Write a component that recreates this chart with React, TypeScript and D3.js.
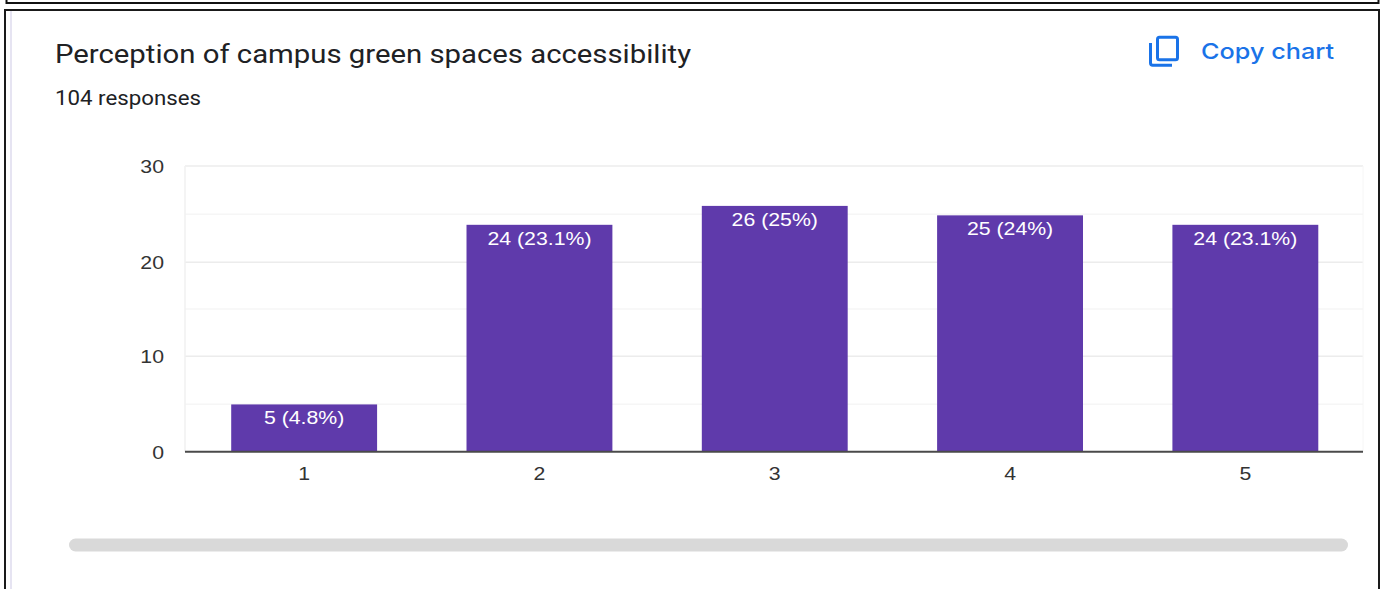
import React from "react";
import * as d3 from "d3";

const categories = ["1", "2", "3", "4", "5"];
const counts = [5, 24, 26, 25, 24];
const barLabels = ["5 (4.8%)", "24 (23.1%)", "26 (25%)", "25 (24%)", "24 (23.1%)"];
const majorTicks = [0, 10, 20, 30];
const minorTicks = [5, 15, 25];

const W = 1386;
const H = 589;
const plot = { left: 185, right: 1363, top: 166, bottom: 451.7 };

const FONT_UI = "Roboto, sans-serif";
const FONT_ACTION = "Inter, Roboto, sans-serif";
const FONT_CHART = "'Liberation Sans', Arial, sans-serif";
const WIDEN = 1.12;

// Chart text is set slightly wide, so it is stretched about its own anchor point.
function WideText({ x, y, anchor, size, fill, children }: any) {
  return (
    <text
      transform={`translate(${x},${y}) scale(${WIDEN},1)`}
      textAnchor={anchor}
      fontFamily={FONT_CHART}
      fontSize={size}
      fill={fill}
    >
      {children}
    </text>
  );
}

export default function App() {
  const x = d3
    .scaleBand<string>()
    .domain(categories)
    .range([186.5, 1363])
    .paddingInner(0.38)
    .paddingOuter(0.19);
  // Gridlines sit on the axis scale; the bars use their own slightly tighter scale.
  const gridY = d3
    .scaleLinear()
    .domain([0, 5, 10, 15, 20, 25, 30])
    .range([plot.bottom, 404.3, 356.2, 309, 262.3, 214.3, plot.top]);
  const barY = d3.scaleLinear().domain([0, 26]).range([plot.bottom, 205.9]);

  return (
    <svg
      width={W}
      height={H}
      viewBox={`0 0 ${W} ${H}`}
      style={{ position: "absolute", left: 0, top: 0, display: "block" }}
    >
      <rect width={W} height={H} fill="#ffffff" />

      {/* Frames around the neighbouring card and this card */}
      <path d="M6.5 -4 V3 H1378.5 V-4" fill="none" stroke="#111111" strokeWidth={2} />
      <path d="M5 600 V10 H1379 V600" fill="none" stroke="#1a1a1a" strokeWidth={2} />
      <line x1={11} x2={11} y1={11} y2={589} stroke="#e6e4f2" strokeWidth={2} />

      <text
        x={55}
        y={63}
        fontFamily={FONT_UI}
        fontSize={25.5}
        textLength={636}
        lengthAdjust="spacingAndGlyphs"
        fill="#202124"
      >
        Perception of campus green spaces accessibility
      </text>
      <text
        x={55}
        y={105}
        fontFamily={FONT_UI}
        fontSize={19.5}
        textLength={146}
        lengthAdjust="spacingAndGlyphs"
        fill="#202124"
      >
        104 responses
      </text>

      {/* Copy chart action */}
      <g fill="none" stroke="#1a73e8" strokeWidth={3}>
        <rect x={1157.5} y={37.2} width={20} height={22.5} rx={2} />
        <path d="M1150.5 43 V63 Q1150.5 65.2 1152.7 65.2 H1172" />
      </g>
      <text
        x={1201}
        y={59}
        fontFamily={FONT_ACTION}
        fontSize={22}
        fontWeight={500}
        textLength={133}
        lengthAdjust="spacingAndGlyphs"
        fill="#1a73e8"
      >
        Copy chart
      </text>

      {/* Gridlines */}
      {minorTicks.map((t) => (
        <line key={t} x1={plot.left} x2={plot.right} y1={gridY(t)} y2={gridY(t)} stroke="#f6f6f6" strokeWidth={1.5} />
      ))}
      {majorTicks.slice(1).map((t) => (
        <line key={t} x1={plot.left} x2={plot.right} y1={gridY(t)} y2={gridY(t)} stroke="#ececec" strokeWidth={1.5} />
      ))}
      <line x1={plot.left} x2={plot.left} y1={plot.top} y2={plot.bottom} stroke="#f0f0f0" strokeWidth={1.5} />
      <line x1={plot.right} x2={plot.right} y1={plot.top} y2={plot.bottom} stroke="#f6f6f6" strokeWidth={1} />

      {/* Bars and their value labels */}
      {categories.map((c, i) => (
        <g key={c}>
          <rect
            x={x(c)}
            y={barY(counts[i])}
            width={x.bandwidth()}
            height={plot.bottom - barY(counts[i])}
            fill="#5f3aab"
          />
          <WideText
            x={x(c)! + x.bandwidth() / 2}
            y={barY(counts[i]) + 19.8}
            anchor="middle"
            size={19}
            fill="#ffffff"
          >
            {barLabels[i]}
          </WideText>
        </g>
      ))}

      <line x1={plot.left} x2={plot.right} y1={plot.bottom} y2={plot.bottom} stroke="#4a4a4a" strokeWidth={2} />

      {/* Axis labels */}
      {majorTicks.map((t) => (
        <WideText key={t} x={164} y={gridY(t) + 7} anchor="end" size={19} fill="#333333">
          {t}
        </WideText>
      ))}
      {categories.map((c) => (
        <WideText key={c} x={x(c)! + x.bandwidth() / 2} y={480} anchor="middle" size={19} fill="#333333">
          {c}
        </WideText>
      ))}

      {/* Horizontal scrollbar */}
      <rect x={69} y={538.5} width={1279} height={13} rx={6.5} fill="#d9d9d9" />
    </svg>
  );
}
